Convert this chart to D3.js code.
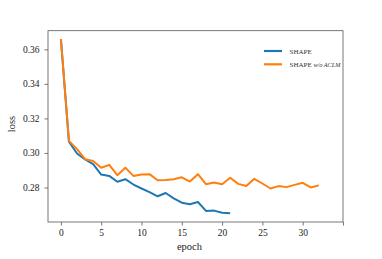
<!DOCTYPE html>
<html><head><meta charset="utf-8">
<script src="https://cdn.jsdelivr.net/npm/d3@7"></script>
<style>body{margin:0;background:#fff}svg{display:block}svg text{font-family:"Liberation Serif","Times New Roman",Times,serif !important}</style>
</head><body><svg id="c" width="382" height="259"></svg>
<script>
const epochsShape = d3.range(0, 22);
const lossShape = [0.366,0.3065,0.2997,0.2962,0.2935,0.2875,0.2867,0.2833,0.2848,0.2817,0.2794,0.2773,0.2749,0.2768,0.2737,0.2712,0.2703,0.2716,0.2664,0.2666,0.2654,0.2651];
const epochsAclm = d3.range(0, 33);
const lossAclm = [0.366,0.307,0.3022,0.2964,0.2953,0.2914,0.2931,0.2871,0.2914,0.2867,0.2875,0.2877,0.2842,0.2843,0.2848,0.2859,0.2834,0.2877,0.2819,0.2829,0.2819,0.2856,0.2821,0.2808,0.285,0.2823,0.2794,0.2808,0.2802,0.2815,0.2827,0.28,0.2812];
const xTicks = [0,5,10,15,20,25,30,35];
const xTickLabels = ["0","5","10","15","20","25","30",""];
const yTicks = [0.28,0.30,0.32,0.34,0.36];
const seriesNames = ["SHAPE","SHAPE"];
const colors = ["#1f77b4","#ff7f0e"];

const svg = d3.select("#c");
const L=48, R=343, T=30.7, B=222;
const x = d3.scaleLinear().domain([-1.6,35]).range([L,R]);
const y = d3.scaleLinear().domain([0.26,0.3708]).range([B,T]);

const line = d3.line().x(d=>x(d[0])).y(d=>y(d[1]));
const s1 = epochsShape.map((e,i)=>[e,lossShape[i]]);
const s2 = epochsAclm.map((e,i)=>[e,lossAclm[i]]);
svg.append("path").attr("d",line(s1)).attr("fill","none").attr("stroke",colors[0]).attr("stroke-width",2).attr("stroke-linejoin","round");
svg.append("path").attr("d",line(s2)).attr("fill","none").attr("stroke",colors[1]).attr("stroke-width",2).attr("stroke-linejoin","round");

const frameColor="#555";
const xAxis = svg.append("g").attr("transform",`translate(0,${B})`)
  .call(d3.axisBottom(x).tickValues(xTicks).tickFormat((d,i)=>xTickLabels[i]).tickSize(3.5).tickPadding(4).tickSizeOuter(0));
const yAxis = svg.append("g").attr("transform",`translate(${L},0)`)
  .call(d3.axisLeft(y).tickValues(yTicks).tickFormat(d3.format(".2f")).tickSize(3.5).tickPadding(5).tickSizeOuter(0));
[xAxis,yAxis].forEach(g=>{
  g.attr("font-family",null);
  g.select(".domain").remove();
  g.selectAll(".tick line").attr("stroke",frameColor).attr("stroke-width",0.8);
  g.selectAll(".tick text").attr("fill","#222").style("font-size","9.5px");
});
svg.append("rect").attr("x",L).attr("y",T).attr("width",R-L).attr("height",B-T)
  .attr("fill","none").attr("stroke",frameColor).attr("stroke-width",0.8);

svg.append("text").attr("x",189.5).attr("y",249.5).attr("text-anchor","middle")
  .attr("fill","#222").style("font-size","10.5px").text("epoch");
svg.append("text").attr("transform","translate(15,124) rotate(-90)").attr("text-anchor","middle")
  .attr("fill","#222").style("font-size","10.5px").text("loss");

// legend
const lg = svg.append("g");
[51,64.3].forEach((yy,i)=>{
  lg.append("line").attr("x1",264).attr("x2",282).attr("y1",yy).attr("y2",yy)
    .attr("stroke",colors[i]).attr("stroke-width",2.2);
});
lg.append("text").attr("x",289.5).attr("y",53.5).attr("fill","#333").style("font-size","7px").text(seriesNames[0]);
const t2 = lg.append("text").attr("x",289.5).attr("y",66.8).attr("fill","#333").style("font-size","7px");
t2.append("tspan").text(seriesNames[1]+" ");
t2.append("tspan").style("font-style","italic").style("font-size","6.2px").text("w/o ACLM");
</script></body></html>
